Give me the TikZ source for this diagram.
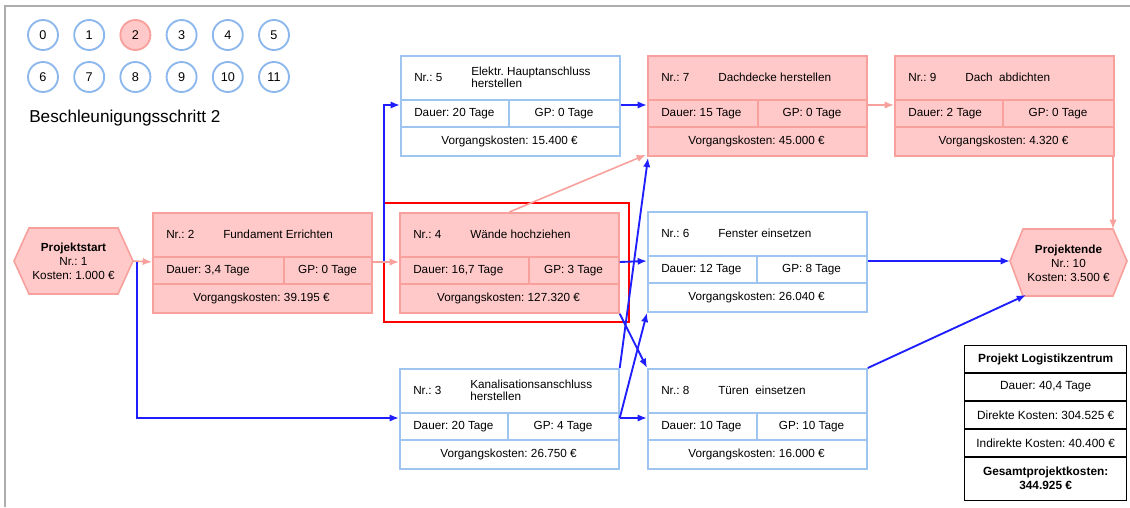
\documentclass[tikz,border=0pt]{standalone}
\usepackage{fontspec}
\setmainfont{Liberation Sans}
\usetikzlibrary{calc,arrows.meta}
\frenchspacing

\definecolor{pfill}{HTML}{FFC9C9}
\definecolor{pline}{HTML}{F8A09C}
\definecolor{bline}{HTML}{9EC4F0}
\definecolor{cline}{HTML}{8DB8EE}
\definecolor{conn}{HTML}{1E1EFF}
\definecolor{framegray}{HTML}{ADADAD}

\tikzset{
  critbox/.style={draw=pline, fill=pfill, line width=1.3pt},
  freebox/.style={draw=bline, fill=white, line width=1.3pt},
  boxtxt/.style={inner sep=0pt, font=\fontsize{8.8}{9.3}\selectfont},
  bluearrow/.style={draw=conn, line width=1.4pt, -{Latex[length=7pt,width=5.5pt]}},
  pinkarrow/.style={draw=pline, line width=1.2pt, -{Latex[length=7pt,width=5.5pt]}},
  stepcircle/.style={circle, draw=cline, fill=white, line width=1.4pt, minimum size=22.5pt, inner sep=0pt, font=\fontsize{9.5}{10}\selectfont},
  activecircle/.style={stepcircle, draw=pline, fill=pfill},
  hexagon/.style={draw=pline, fill=pfill, line width=1.2pt},
  hextxt/.style={inner sep=0pt, align=center, font=\fontsize{8.8}{10.5}\selectfont},
  sumbox/.style={draw=black, line width=1pt, fill=white},
  sumtxt/.style={inner sep=0pt, align=center, font=\fontsize{8.9}{10.5}\selectfont},
}

% task box: name, top-left corner, style, split of the middle row,
% number, title, duration, float, cost
\newcommand\taskbox[9]{%
  \node[#3, anchor=north west, minimum width=164.25pt, minimum height=75pt, inner sep=0pt] (#1) at (#2) {};
  \draw[#3, fill=none]
    ($(#1.north west)+(0,45)$) -- ($(#1.north east)+(0,45)$)
    ($(#1.north west)+(0,72)$) -- ($(#1.north east)+(0,72)$)
    ($(#1.north west)+(#4,45)$) -- ($(#1.north west)+(#4,72)$);
  \node[boxtxt, anchor=west] at ($(#1.north west)+(14,22.5)$) {Nr.: #5};
  \node[boxtxt, anchor=west, align=left] at ($(#1.north west)+(71,22.5)$) {#6};
  \node[boxtxt, anchor=west] at ($(#1.north west)+(14,58.5)$) {Dauer: #7};
  \node[boxtxt] at ($(#1.north west)+({(#4+219)/2},58.5)$) {GP: #8};
  \node[boxtxt] at ($(#1.north west)+(109.5,86)$) {Vorgangskosten: #9};
  \coordinate (#1-in) at ($(#1.north west)+(0,50)$);
  \coordinate (#1-out) at ($(#1.north east)+(0,50)$);
}

\begin{document}
\begin{tikzpicture}[x=0.75pt, y=-0.75pt]
\useasboundingbox (0,0) rectangle (1130,507);
\fill[white] (0,0) rectangle (1130,507);

% sheet frame
\draw[framegray, line width=1.3pt] (5,507) -- (5,6) -- (1130,6);

% step selector
\foreach \n in {0,1,3,4,5,6,7,8,9,10,11} {
  \pgfmathsetmacro\cx{43+46.2*mod(\n,6)}
  \pgfmathsetmacro\cy{\n<6 ? 35 : 77}
  \node[stepcircle] (c\n) at (\cx,\cy) {\n};
}
\node[activecircle] (c2) at (135.4,35) {2};

\node[anchor=west, inner sep=0pt, font=\fontsize{12.9}{15}\selectfont] (title) at (29,118) {Beschleunigungsschritt 2};

% start and end events
\path[hexagon] (14,261) -- (29,228) -- (118,228) -- (133,261) -- (118,294) -- (29,294) -- cycle;
\node[hextxt] (start) at (73.5,261) {\textbf{Projektstart}\\Nr.: 1\\Kosten: 1.000 €};
\coordinate (start-tip) at (133,261);

\path[hexagon] (1010,261) -- (1023,229) -- (1113,229) -- (1127,261) -- (1113,296) -- (1023,296) -- cycle;
\node[hextxt] (end) at (1068.5,263) {\textbf{Projektende}\\Nr.: 10\\Kosten: 3.500 €};
\coordinate (end-w) at (1010,261);
\coordinate (end-ne) at (1113,229);
\coordinate (end-sw) at (1026,295);

% activities
\taskbox{b2}{152,212}{critbox}{132}{2}{Fundament Errichten}{3,4 Tage}{0 Tage}{39.195 €}
\taskbox{b5}{400,55}{freebox}{109}{5}{Elektr. Hauptanschluss\\herstellen}{20 Tage}{0 Tage}{15.400 €}
\taskbox{b4}{399,212}{critbox}{130}{4}{Wände hochziehen}{16,7 Tage}{3 Tage}{127.320 €}
\taskbox{b3}{399,368}{freebox}{109}{3}{Kanalisationsanschluss\\herstellen}{20 Tage}{4 Tage}{26.750 €}
\taskbox{b7}{647,55}{critbox}{111}{7}{Dachdecke herstellen}{15 Tage}{0 Tage}{45.000 €}
\taskbox{b6}{647,211}{freebox}{110}{6}{Fenster einsetzen}{12 Tage}{8 Tage}{26.040 €}
\taskbox{b8}{647,368}{freebox}{110}{8}{Türen~ einsetzen}{10 Tage}{10 Tage}{16.000 €}
\taskbox{b9}{894,55}{critbox}{109}{9}{Dach~ abdichten}{2 Tage}{0 Tage}{4.320 €}

% current acceleration step
\draw[red, line width=2.2pt] (384,203) rectangle (629,322);

% dependencies
\draw[pinkarrow] (start-tip) -- (b2-in);
\draw[bluearrow] ($(start-tip)+(4,1)$) |- (b3-in);
\draw[bluearrow] (b2-out) -- ++(11,0) |- (b5-in);
\draw[pinkarrow] (b2-out) -- (b4-in);
\draw[bluearrow] (b5-out) -- (b7-in);
\draw[pinkarrow] (b4.north) -- ($(b7.south west)+(-1,-2)$);
\draw[bluearrow] (b3.north east) -- ($(b7.south west)+(1,1)$);
\draw[bluearrow] (b4-out) -- (b6-in);
\draw[bluearrow] (b4.south east) -- (b8.north west);
\draw[bluearrow] (b3-out) -- (b6.south west);
\draw[bluearrow] (b3-out) -- (b8-in);
\draw[pinkarrow] (b7-out) -- (b9-in);
\draw[pinkarrow] (end-ne |- b9.south) -- (end-ne);
\draw[bluearrow] (b6-out) -- (b6-out -| end-w);
\draw[bluearrow] (b8.north east) -- (end-sw);

% project summary
\node[sumbox, anchor=north west, minimum width=121.5pt, minimum height=116.25pt, inner sep=0pt] (sum) at (964,345) {};
\draw[black, line width=1pt]
  ($(sum.north west)+(0,28)$) -- ($(sum.north east)+(0,28)$)
  ($(sum.north west)+(0,56)$) -- ($(sum.north east)+(0,56)$)
  ($(sum.north west)+(0,84)$) -- ($(sum.north east)+(0,84)$)
  ($(sum.north west)+(0,112)$) -- ($(sum.north east)+(0,112)$);
\node[sumtxt] (s1) at ($(sum.north)+(0,14)$) {\textbf{Projekt Logistikzentrum}};
\node[sumtxt] (s2) at ($(sum.north)+(0,42)$) {Dauer: 40,4 Tage};
\node[sumtxt] (s3) at ($(sum.north)+(0,70)$) {Direkte Kosten: 304.525 €};
\node[sumtxt] (s4) at ($(sum.north)+(0,98)$) {Indirekte Kosten: 40.400 €};
\node[sumtxt] (s5) at ($(sum.north)+(0,133.5)$) {\textbf{Gesamtprojektkosten:}\\\textbf{344.925 €}};
\end{tikzpicture}
\end{document}
